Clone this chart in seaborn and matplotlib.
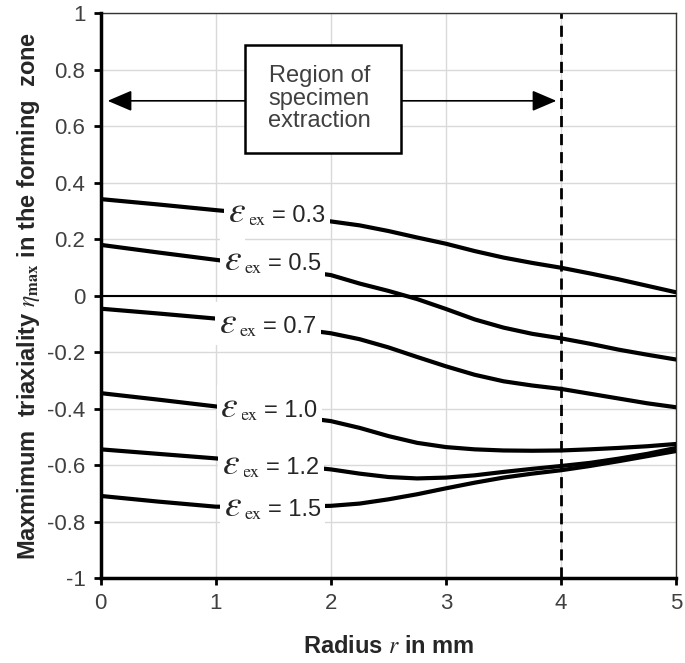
import matplotlib
matplotlib.use("Agg")
import matplotlib.pyplot as plt
from matplotlib.patches import Rectangle
import numpy as np
import pandas as pd
import seaborn as sns

# ---- data ----
radius = [0.0, 0.5, 1.0, 1.5, 2.0, 2.25, 2.5, 2.75, 3.0, 3.25, 3.5, 3.75, 4.0, 4.25, 4.5, 4.75, 5.0]
eta_03 = [0.342, 0.323, 0.303, 0.284, 0.263, 0.249, 0.229, 0.206, 0.184, 0.158, 0.135, 0.116, 0.099, 0.079, 0.058, 0.035, 0.012]
eta_05 = [0.180, 0.153, 0.127, 0.101, 0.073, 0.043, 0.017, -0.012, -0.047, -0.084, -0.113, -0.135, -0.151, -0.170, -0.191, -0.209, -0.226]
eta_07 = [-0.046, -0.063, -0.081, -0.106, -0.133, -0.154, -0.183, -0.217, -0.250, -0.280, -0.303, -0.318, -0.330, -0.347, -0.364, -0.381, -0.395]
eta_10 = [-0.345, -0.368, -0.392, -0.418, -0.444, -0.468, -0.497, -0.521, -0.536, -0.544, -0.548, -0.549, -0.548, -0.544, -0.539, -0.533, -0.525]
eta_12 = [-0.544, -0.560, -0.576, -0.595, -0.615, -0.630, -0.642, -0.647, -0.644, -0.636, -0.624, -0.613, -0.603, -0.592, -0.577, -0.560, -0.539]
eta_15 = [-0.709, -0.729, -0.747, -0.748, -0.744, -0.736, -0.721, -0.703, -0.682, -0.662, -0.644, -0.630, -0.618, -0.603, -0.586, -0.568, -0.550]
strain_labels = ["0.3", "0.5", "0.7", "1.0", "1.2", "1.5"]
label_x = [1.487, 1.450, 1.407, 1.422, 1.436, 1.450]   # left edge of "=" sign
label_y = [0.261, 0.091, -0.133, -0.430, -0.632, -0.780]  # text baseline
x_ticks = [0, 1, 2, 3, 4, 5]
y_ticks = [-1, -0.8, -0.6, -0.4, -0.2, 0, 0.2, 0.4, 0.6, 0.8, 1]
y_tick_labels = ["-1", "-0.8", "-0.6", "-0.4", "-0.2", "0", "0.2", "0.4", "0.6", "0.8", "1"]
extraction_limit = 4.0

series = [eta_03, eta_05, eta_07, eta_10, eta_12, eta_15]
df = pd.concat(
    [pd.DataFrame({"r": radius, "eta": s, "strain": lab}) for s, lab in zip(series, strain_labels)],
    ignore_index=True,
)

sns.set_theme(style="whitegrid")
plt.rcParams["font.family"] = ["Liberation Sans", "DejaVu Sans"]
plt.rcParams["mathtext.fontset"] = "stix"

fig = plt.figure(figsize=(6.85, 6.63), dpi=100)
ax = fig.add_axes([0.147, 0.128, 0.840, 0.852])

sns.lineplot(data=df, x="r", y="eta", hue="strain", palette=["black"] * 6,
             linewidth=3.0, legend=False, ax=ax, zorder=3)

ax.set_xlim(0, 5)
ax.set_ylim(-1, 1)
ax.set_xticks(x_ticks)
ax.set_xticklabels([str(t) for t in x_ticks])
ax.set_yticks(y_ticks)
ax.set_yticklabels(y_tick_labels)
ax.grid(True, color="#d9d9d9", linewidth=1.0)
ax.set_axisbelow(True)

for side in ["top", "right"]:
    ax.spines[side].set_color("#333333")
    ax.spines[side].set_linewidth(1.0)
for side in ["left", "bottom"]:
    ax.spines[side].set_color("black")
    ax.spines[side].set_linewidth(2.5)
    ax.spines[side].set_zorder(5)

ax.tick_params(axis="both", which="major", direction="out", length=5, width=2,
               color="black", labelsize=16, labelcolor="#404040", pad=6, left=True, bottom=True)

ax.axhline(0, color="black", linewidth=1.5, zorder=2)
ax.axvline(extraction_limit, color="black", linewidth=2.0, linestyle=(0, (4, 2.5)), zorder=2)

# curve labels: large italic epsilon, serif subscript, sans "= value"
for lab, lx, ly in zip(strain_labels, label_x, label_y):
    ax.annotate("= " + lab, xy=(lx, ly), xytext=(0, 0), textcoords="offset pixels",
                fontsize=17, color="#262626", ha="left", va="baseline", zorder=4,
                bbox=dict(boxstyle="square,pad=0.2", facecolor="white", edgecolor="none"))
    ax.annotate(r"$\mathrm{ex}$", xy=(lx, ly), xytext=(-24, -3), textcoords="offset pixels",
                fontsize=13, color="#262626", ha="left", va="baseline", zorder=4,
                bbox=dict(boxstyle="square,pad=0.3", facecolor="white", edgecolor="none"))
    ax.annotate(r"$\varepsilon$", xy=(lx, ly), xytext=(-44, 0), textcoords="offset pixels",
                fontsize=27, color="#262626", ha="left", va="baseline", zorder=4,
                bbox=dict(boxstyle="square,pad=0.1", facecolor="white", edgecolor="none"))

# Region annotation
ax.annotate("", xy=(0.06, 0.690), xytext=(1.9, 0.690), zorder=5,
            arrowprops=dict(arrowstyle="-|>,head_length=0.75,head_width=0.32", color="black",
                            linewidth=1.2, mutation_scale=20, shrinkA=0, shrinkB=0))
ax.annotate("", xy=(3.96, 0.690), xytext=(1.9, 0.690), zorder=5,
            arrowprops=dict(arrowstyle="-|>,head_length=0.75,head_width=0.32", color="black",
                            linewidth=1.2, mutation_scale=20, shrinkA=0, shrinkB=0))
ax.add_patch(Rectangle((1.252, 0.504), 2.609 - 1.252, 0.889 - 0.504, facecolor="white",
                       edgecolor="black", linewidth=1.8, zorder=6))
ax.text(1.90, 0.698, "Region of\nspecimen\nextraction", fontsize=17, color="#404040",
        ha="center", va="center", linespacing=1.05, zorder=7)

ax.set_xlabel(r"Radius $r$ in mm", fontsize=17, fontweight="bold", color="#262626", labelpad=15)
ax.set_ylabel(r"Maxmimum  triaxiality $\eta_{\mathbf{max}}$ in the forming  zone", fontsize=17,
              fontweight="bold", color="#262626", labelpad=4)

fig.savefig("out.png", dpi=100)
